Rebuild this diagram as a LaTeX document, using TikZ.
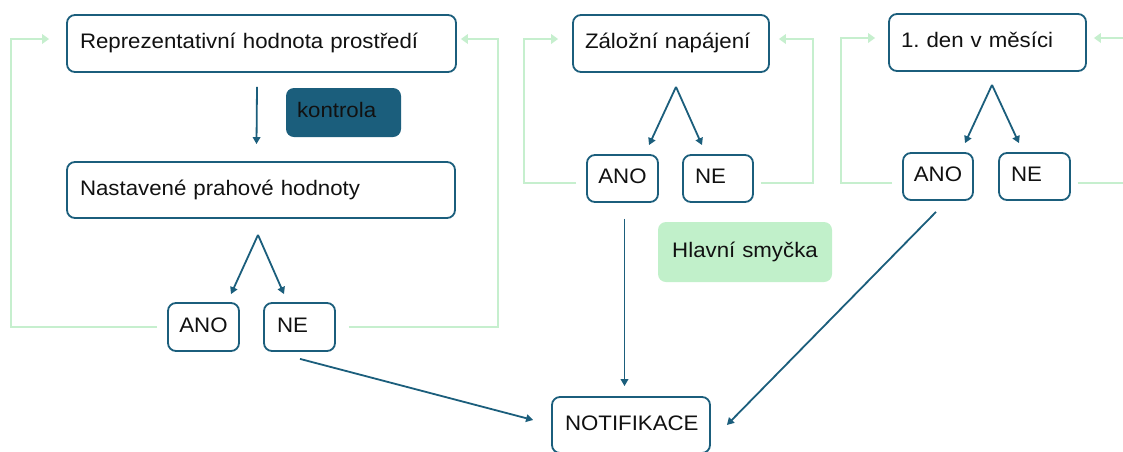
\documentclass[tikz,border=0pt]{standalone}
\usepackage{fontspec}
\setmainfont{Liberation Sans}[FakeStretch=1.06]
\usetikzlibrary{arrows.meta}
\definecolor{flowteal}{RGB}{27,94,124}
\definecolor{loopgreen}{RGB}{198,239,206}
\definecolor{notegreen}{RGB}{193,240,202}
\definecolor{inktext}{RGB}{17,17,17}
\frenchspacing
\begin{document}
\begin{tikzpicture}[x=1pt,y=-1pt,
  every node/.style={text=inktext, font=\fontsize{21}{24}\selectfont,
    text height=15pt, text depth=5pt},
  box/.style={draw=flowteal, line width=1.8pt, rounded corners=8pt,
    inner xsep=13pt, inner ysep=0pt, minimum height=57pt, align=left},
  smallbox/.style={box, minimum height=48pt},
  tag/.style={rounded corners=8pt, inner xsep=11pt, inner ysep=0pt, align=left},
  flow/.style={draw=flowteal, line width=1.8pt,
    -{Triangle[length=7pt,width=7.5pt]}},
  loopline/.style={draw=loopgreen, line width=2.9pt,
    -{Triangle[length=7pt,width=9.5pt]}},
  loopplain/.style={draw=loopgreen, line width=2.9pt}]

\clip (0,0) rectangle (1123,451);
\fill[white] (0,0) rectangle (1123,451);

% --- left column: sensor value check ---
\node[box, text width=363pt] (rep) at (261.5,43.5) {Reprezentativní hodnota prostředí};
\node[box, text width=362pt, minimum height=56pt] (prah) at (261,190) {Nastavené prahové hodnoty};
\node[tag, fill=flowteal, text width=93pt, minimum height=49pt] (kontrola) at (343.5,112.5) {kontrola};
\node[smallbox, inner xsep=8pt, text width=55pt, align=center] (ano1) at (203.5,327) {ANO};
\node[smallbox, text width=45pt] (ne1) at (299.5,327) {NE};

% --- middle column: backup power ---
\node[box, inner xsep=12pt, text width=172pt] (zal) at (671,43.5) {Záložní napájení};
\node[smallbox, inner xsep=8pt, text width=55pt, minimum height=47pt, align=center] (ano2) at (622.5,178.5) {ANO};
\node[smallbox, inner xsep=12pt, text width=46pt, minimum height=47pt] (ne2) at (718,178.5) {NE};

% --- right column: first day of month ---
\node[box, inner xsep=12pt, text width=173pt] (den) at (987.5,42.5) {1. den v~měsíci};
\node[smallbox, inner xsep=8pt, text width=54pt, minimum height=47pt, align=center] (ano3) at (938,176.5) {ANO};
\node[smallbox, inner xsep=12pt, text width=47pt, minimum height=47pt] (ne3) at (1034.5,176.5) {NE};

% --- shared targets ---
\node[tag, fill=notegreen, inner xsep=10pt, text width=154pt, minimum height=60pt, align=center] (hlav) at (745,252) {Hlavní smyčka};
\node[box, text width=132pt, minimum height=56pt] (notif) at (631,425) {NOTIFIKACE};

% loose ends leaving the right edge
\coordinate (offR) at (1135,183);
\coordinate (offT) at (1135,38);

% --- main-loop returns ---
\draw[loopline] ([xshift=-10pt]ano1.west) -- (11,327) |- ([xshift=-17pt,yshift=4.5pt]rep.west);
\draw[loopline] ([xshift=13pt]ne1.east) -- (498,327) |- ([xshift=4pt,yshift=4.5pt]rep.east);
\draw[loopline] ([xshift=-10pt,yshift=-4.5pt]ano2.west) -- (524,183) |- ([xshift=-14pt,yshift=4.5pt]zal.west);
\draw[loopline] ([xshift=7pt,yshift=-4.5pt]ne2.east) -- (813,183) |- ([xshift=9pt,yshift=4.5pt]zal.east);
\draw[loopline] ([xshift=-10pt,yshift=-6.5pt]ano3.west) -- (841,183) |- ([xshift=-13pt,yshift=4.5pt]den.west);
\draw[loopplain] ([xshift=7pt,yshift=-6.5pt]ne3.east) -- (offR);
\draw[loopline] (offT) -- ([xshift=7pt,yshift=4.5pt]den.east);

% --- decision flow ---
\draw[flow] ([xshift=-4.5pt,yshift=-14pt]rep.south) -- ([xshift=-4.5pt,yshift=17pt]prah.north);

\coordinate (f1) at ([xshift=-3pt,yshift=-16pt]prah.south);
\draw[flow] (f1) -- ([xshift=27.5pt,yshift=8pt]ano1.north);
\draw[flow] (f1) -- ([xshift=-15.5pt,yshift=8pt]ne1.north);

\coordinate (f2) at ([xshift=5pt,yshift=-14pt]zal.south);
\draw[flow] (f2) -- ([xshift=26.5pt,yshift=9pt]ano2.north);
\draw[flow] (f2) -- ([xshift=-16pt,yshift=9pt]ne2.north);

\coordinate (f3) at ([xshift=4.5pt,yshift=-13pt]den.south);
\draw[flow] (f3) -- ([xshift=27pt,yshift=9pt]ano3.north);
\draw[flow] (f3) -- ([xshift=-15.5pt,yshift=9pt]ne3.north);

% --- notifications ---
\draw[flow] ([xshift=2pt,yshift=-16pt]ano2.south) -- ([xshift=-6.5pt,yshift=10pt]notif.north);
\draw[flow] ([xshift=0.5pt,yshift=-7pt]ne1.south) -- ([xshift=-18pt,yshift=5pt]notif.west);
\draw[flow] ([xshift=-2pt,yshift=-11pt]ano3.south) -- ([xshift=16pt]notif.east);
\end{tikzpicture}
\end{document}
